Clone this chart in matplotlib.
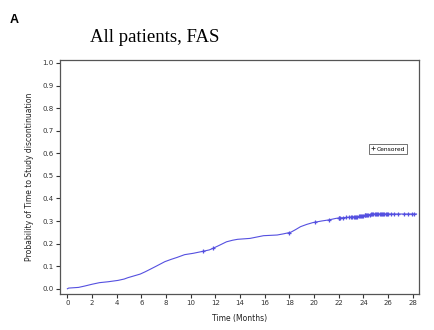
import matplotlib
matplotlib.use('Agg')
import matplotlib.pyplot as plt
import numpy as np

# cumulative probability of study discontinuation over time
event_months = [0.0, 0.1, 0.9, 1.4, 2.0, 2.6, 3.3, 4.1, 4.6, 4.9, 5.4, 5.9,
                6.3, 6.7, 7.2, 7.9, 8.4, 8.9, 9.5, 10.2, 11.0, 11.5, 11.8,
                12.3, 12.9, 13.4, 13.8, 14.8, 15.9, 17.0, 17.5, 18.1, 18.5,
                18.9, 19.4, 19.9, 20.6, 21.2, 21.8, 22.9, 23.6, 24.0, 24.8,
                28.3]
event_prob = [0.0, 0.003, 0.006, 0.012, 0.02, 0.027, 0.031, 0.037, 0.043,
              0.049, 0.057, 0.065, 0.075, 0.086, 0.1, 0.12, 0.13, 0.139,
              0.151, 0.157, 0.166, 0.172, 0.179, 0.192, 0.208, 0.215, 0.219,
              0.223, 0.235, 0.238, 0.243, 0.25, 0.262, 0.275, 0.285, 0.293,
              0.3, 0.305, 0.312, 0.317, 0.32, 0.324, 0.331, 0.331]

censor_months = [11.0, 11.8, 18.0, 20.1, 21.2, 22.0, 22.05, 22.1, 22.3, 22.6,
                 22.8, 23.0, 23.1, 23.2, 23.3, 23.4, 23.5, 23.6, 23.7, 23.8,
                 23.9, 24.0, 24.1, 24.15, 24.2, 24.3, 24.4, 24.5, 24.6, 24.7,
                 24.8, 24.9, 25.0, 25.1, 25.2, 25.3, 25.4, 25.5, 25.6, 25.7,
                 25.8, 25.9, 26.0, 26.2, 26.5, 26.8, 27.3, 27.6, 27.9, 28.1]

line_color = '#5550e0'

fig = plt.figure(figsize=(4.35, 3.30), dpi=100)
ax = fig.add_axes([60 / 435, 1 - 293.5 / 330, 359 / 435, 233.5 / 330])

ax.plot(event_months, event_prob, color=line_color, lw=0.8)

# censored observations sit on the curve at their time
cens_p = np.interp(censor_months, event_months, event_prob)
ax.plot(censor_months, cens_p, ls='none', marker='+', ms=3.5, mew=0.9,
        color=line_color)

ax.set_xlim(-0.6, 28.5)
ax.set_ylim(-0.021, 1.013)
ax.set_xticks(np.arange(0, 29, 2))
ax.set_yticks(np.arange(0, 1.01, 0.1))
ax.set_yticklabels([f'{v:.1f}' for v in np.arange(0, 1.01, 0.1)])
ax.tick_params(labelsize=5, colors='#333333', length=3, width=0.8, pad=1.5)
for s in ax.spines.values():
    s.set_color('#555555')
    s.set_linewidth(0.9)

ax.set_xlabel('Time (Months)', fontsize=5.5, color='#222222', labelpad=6)
ax.set_ylabel('Probability of Time to Study discontinuation', fontsize=5.5,
              color='#222222', labelpad=6)

leg_handle, = ax.plot([], [], ls='none', marker='+', ms=3, mew=0.6,
                      color='#333333')
leg = ax.legend([leg_handle], ['Censored'], loc='center',
                bbox_to_anchor=(0.914, 0.619), fontsize=4.3, frameon=True,
                fancybox=False, handlelength=0.6, handletextpad=0.3,
                borderpad=0.4, borderaxespad=0)
leg.get_frame().set_edgecolor('#333333')
leg.get_frame().set_linewidth(0.6)

fig.text(155 / 435, 1 - 37 / 330, 'All patients, FAS', fontsize=13.5,
         family='Liberation Serif', ha='center', va='center')
fig.text(10 / 435, 1 - 20 / 330, 'A', fontsize=9, fontweight='bold',
         family='Liberation Sans', ha='left', va='center')

fig.savefig('out.png', dpi=100)
